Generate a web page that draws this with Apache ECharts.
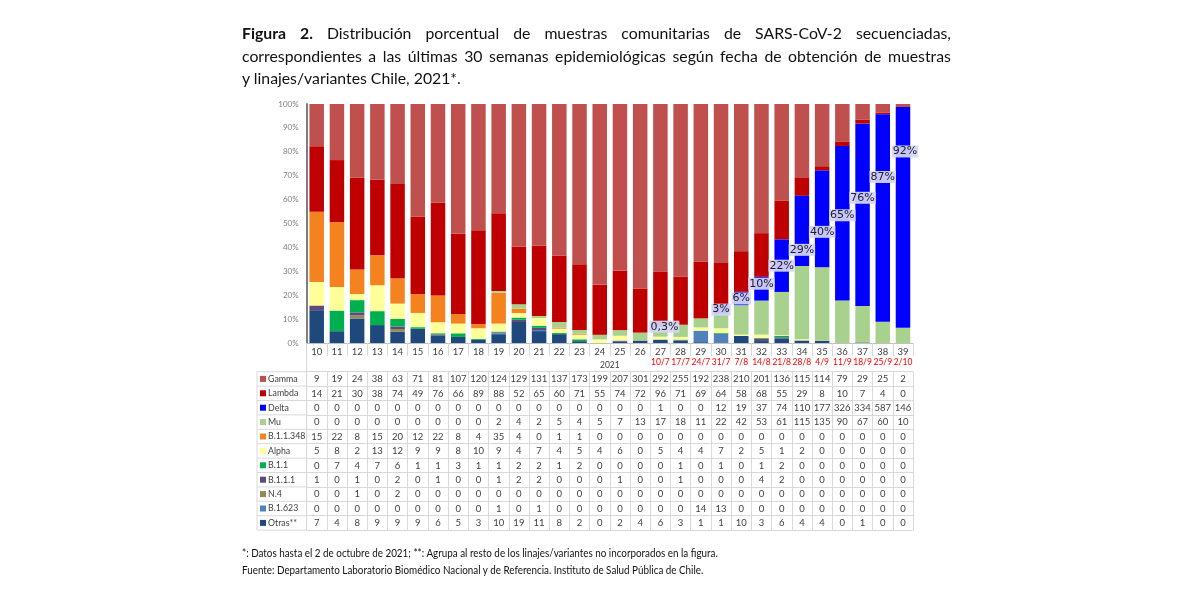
<!DOCTYPE html>
<html><head><meta charset="utf-8">
<script src="https://cdn.jsdelivr.net/npm/echarts@6/dist/echarts.min.js"></script>
<style>
html,body{margin:0;padding:0;background:#fff;}
#wrap{position:relative;width:1200px;height:600px;overflow:hidden;}
#chart{position:absolute;left:0;top:0;width:1200px;height:600px;}
#title{position:absolute;left:242px;top:22px;width:709px;font-family:Lato,'Open Sans',sans-serif;font-size:15.8px;line-height:22.5px;color:#111;}
#title .j{white-space:nowrap;display:flex;justify-content:space-between;}
#foot{position:absolute;left:242px;top:544px;font-family:Lato,'Open Sans',sans-serif;font-size:11.5px;line-height:17px;color:#111;white-space:nowrap;transform:scaleX(0.856);transform-origin:0 0;}
</style></head>
<body><div id="wrap">
<div id="chart"></div>
<div id="title"></div>
<div id="foot">*: Datos hasta el 2 de octubre de 2021; **: Agrupa al resto de los linajes/variantes no incorporados en la figura.<br>Fuente: Departamento Laboratorio Biomédico Nacional y de Referencia. Instituto de Salud Pública de Chile.</div>
</div>
<script>
// ---- data ----
const weeks = ['10','11','12','13','14','15','16','17','18','19','20','21','22','23','24','25','26','27','28','29','30','31','32','33','34','35','36','37','38','39'];
const dateLabels = ['','','','','','','','','','','','','','','','','','10/7','17/7','24/7','31/7','7/8','14/8','21/8','28/8','4/9','11/9','18/9','25/9','2/10'];
const yearLabel = '2021';
const gamma  = [9,19,24,38,63,71,81,107,120,124,129,131,137,173,199,207,301,292,255,192,238,210,201,136,115,114,79,29,25,2];
const lambda = [14,21,30,38,74,49,76,66,89,88,52,65,60,71,55,74,72,96,71,69,64,58,68,55,29,8,10,7,4,0];
const delta  = [0,0,0,0,0,0,0,0,0,0,0,0,0,0,0,0,0,1,0,0,12,19,37,74,110,177,326,334,587,146];
const mu     = [0,0,0,0,0,0,0,0,0,2,4,2,5,4,5,7,13,17,18,11,22,42,53,61,115,135,90,67,60,10];
const b11348 = [15,22,8,15,20,12,22,8,4,35,4,0,1,1,0,0,0,0,0,0,0,0,0,0,0,0,0,0,0,0];
const alpha  = [5,8,2,13,12,9,9,8,10,9,4,7,4,5,4,6,0,5,4,4,7,2,5,1,2,0,0,0,0,0];
const b11    = [0,7,4,7,6,1,1,3,1,1,2,2,1,2,0,0,0,0,1,0,1,0,1,2,0,0,0,0,0,0];
const b111   = [1,0,1,0,2,0,1,0,0,1,2,2,0,0,0,1,0,0,1,0,0,0,4,2,0,0,0,0,0,0];
const n4     = [0,0,1,0,2,0,0,0,0,0,0,0,0,0,0,0,0,0,0,0,0,0,0,0,0,0,0,0,0,0];
const b1623  = [0,0,0,0,0,0,0,0,0,1,0,1,0,0,0,0,0,0,0,14,13,0,0,0,0,0,0,0,0,0];
const otras  = [7,4,8,9,9,9,6,5,3,10,19,11,8,2,0,2,4,6,3,1,1,10,3,6,4,4,0,1,0,0];
const deltaLabels = ['','','','','','','','','','','','','','','','','','0,3%','','','3%','6%','10%','22%','29%','40%','65%','76%','87%','92%'];
const yTicks = ['0%','10%','20%','30%','40%','50%','60%','70%','80%','90%','100%'];
const titleLines = ['Distribución porcentual de muestras comunitarias de SARS-CoV-2 secuenciadas,',
  'correspondientes a las últimas 30 semanas epidemiológicas según fecha de obtención de muestras',
  'y linajes/variantes Chile, 2021*.'];

// ---- styles / layout ----
const variants = [ // table order (top to bottom)
  {name:'Gamma', data:gamma, color:'#C0504D'},
  {name:'Lambda', data:lambda, color:'#C00000'},
  {name:'Delta', data:delta, color:'#0000FF'},
  {name:'Mu', data:mu, color:'#A9D18E'},
  {name:'B.1.1.348', data:b11348, color:'#F4821F'},
  {name:'Alpha', data:alpha, color:'#FFFF99'},
  {name:'B.1.1', data:b11, color:'#00B050'},
  {name:'B.1.1.1', data:b111, color:'#604A7B'},
  {name:'N.4', data:n4, color:'#948A54'},
  {name:'B.1.623', data:b1623, color:'#4F81BD'},
  {name:'Otras**', data:otras, color:'#1F497D'}
];
const labelShift = {17:[4,0],22:[0,-5],24:[0,19],25:[0,13],26:[0,-8],27:[0,-17],28:[0,-41],29:[2,-66]};

// title
const t = document.getElementById('title');
t.innerHTML = '<div class="j"></div><div class="j"></div><div></div>';
const l1 = titleLines[0].split(' ');
t.children[0].innerHTML = '<span><b>Figura</b></span><span><b>2.</b></span>' + l1.map(w=>'<span>'+w+'</span>').join('');
t.children[1].innerHTML = titleLines[1].split(' ').map(w=>'<span>'+w+'</span>').join('');
t.children[2].textContent = titleLines[2];

const gridTop = 104, gridBottomY = 343, gridLeft = 306.6, gridRight = 913.1;
const rowTop = 371.7, rowH = 14.4;
const totals = weeks.map((_, i) => variants.reduce((s, v) => s + v.data[i], 0));
const textFont = 'Lato, "Open Sans", sans-serif';

const xAxes = [
  { type:'category', data:weeks, position:'bottom',
    axisLine:{show:true, lineStyle:{color:'#bfbfbf', width:1}},
    axisTick:{show:true, interval:0, length:13, lineStyle:{color:'#d9d9d9'}},
    axisLabel:{interval:0, fontSize:9.5, color:'#404040', margin:4, fontFamily:textFont} },
  { type:'category', data:dateLabels, position:'bottom', offset:12,
    axisLine:{show:false}, axisTick:{show:false},
    axisLabel:{interval:0, fontSize:8.5, color:'#FF0000', margin:2.5, fontFamily:textFont},
    name:yearLabel, nameLocation:'middle', nameGap:10, nameMoveOverlap:false,
    nameTextStyle:{fontSize:8.5, color:'#404040', fontFamily:textFont, verticalAlign:'middle'} }
];
variants.forEach((v, r) => {
  xAxes.push({ type:'category', data:v.data.map(String), position:'bottom',
    offset: rowTop + rowH*r - gridBottomY,
    axisLine:{show:true, lineStyle:{color:'#d9d9d9', width:1}},
    axisTick:{show:true, interval:0, length:rowH, lineStyle:{color:'#d9d9d9'}},
    axisLabel:{interval:0, fontSize:9.5, color:'#404040', margin:2.5, fontFamily:textFont} });
});
xAxes.push({ type:'category', data:weeks, position:'bottom', offset: rowTop + rowH*variants.length - gridBottomY,
  axisLine:{show:true, lineStyle:{color:'#d9d9d9', width:1}}, axisTick:{show:false}, axisLabel:{show:false} });

const stackOrder = ['Otras**','B.1.623','N.4','B.1.1.1','B.1.1','Alpha','B.1.1.348','Mu','Delta','Lambda','Gamma'];
const series = stackOrder.map(name => {
  const v = variants.find(x => x.name === name);
  const s = { name, type:'bar', stack:'all', xAxisIndex:0, barWidth:14.5,
    itemStyle:{color:v.color}, emphasis:{disabled:true}, animation:false,
    data: v.data.map((c, i) => totals[i] ? c / totals[i] * 100 : 0) };
  if (name === 'Delta') {
    s.z = 5;
    s.data = s.data.map((p, i) => deltaLabels[i] ? { value:p, label:{ show:true } } : p);
    s.label = { show:false, position:'inside', formatter: p => deltaLabels[p.dataIndex],
      fontFamily:'"DejaVu Sans", sans-serif', fontSize:11, color:'#1a1a2a',
      backgroundColor:'rgba(214,214,246,0.92)', padding:[1,1,0,1] };
    s.labelLayout = p => { const sh = labelShift[p.dataIndex]; return sh ? {dx:sh[0], dy:sh[1], hideOverlap:false} : {hideOverlap:false}; };
  }
  return s;
});

// row headers for the data table
const graphics = [];
const lineStyle = {stroke:'#d9d9d9', lineWidth:1};
variants.forEach((v, r) => {
  const cy = rowTop + rowH*r + rowH/2;
  graphics.push({type:'rect', shape:{x:260, y:cy-3, width:6, height:6}, style:{fill:v.color}});
  graphics.push({type:'text', x:268, y:cy, style:{text:v.name, fill:'#404040', font:'8.8px '+textFont, verticalAlign:'middle', textAlign:'left'}});
  graphics.push({type:'line', shape:{x1:257, y1:rowTop+rowH*r, x2:gridLeft, y2:rowTop+rowH*r}, style:lineStyle});
});
graphics.push({type:'line', shape:{x1:257, y1:rowTop+rowH*variants.length, x2:gridLeft, y2:rowTop+rowH*variants.length}, style:lineStyle});
graphics.push({type:'line', shape:{x1:257, y1:rowTop, x2:257, y2:rowTop+rowH*variants.length}, style:lineStyle});
graphics.push({type:'line', shape:{x1:gridLeft, y1:gridBottomY, x2:gridLeft, y2:rowTop+rowH*variants.length}, style:lineStyle});

const chart = echarts.init(document.getElementById('chart'), null, {renderer:'canvas'});
chart.setOption({
  backgroundColor:'#fff',
  animation:false,
  grid:{left:gridLeft, right:1200-gridRight, top:gridTop, bottom:600-gridBottomY, containLabel:false, outerBoundsMode:'none'},
  xAxis: xAxes,
  yAxis: { type:'value', min:0, max:100, interval:10,
    axisLine:{show:true, lineStyle:{color:'#7f7f7f', width:2}}, axisTick:{show:false}, splitLine:{show:false},
    axisLabel:{formatter: v => yTicks[Math.round(v/10)], fontSize:8, color:'#7f7f7f', margin:8, fontFamily:textFont} },
  series,
  graphic: graphics
});
</script></body></html>
